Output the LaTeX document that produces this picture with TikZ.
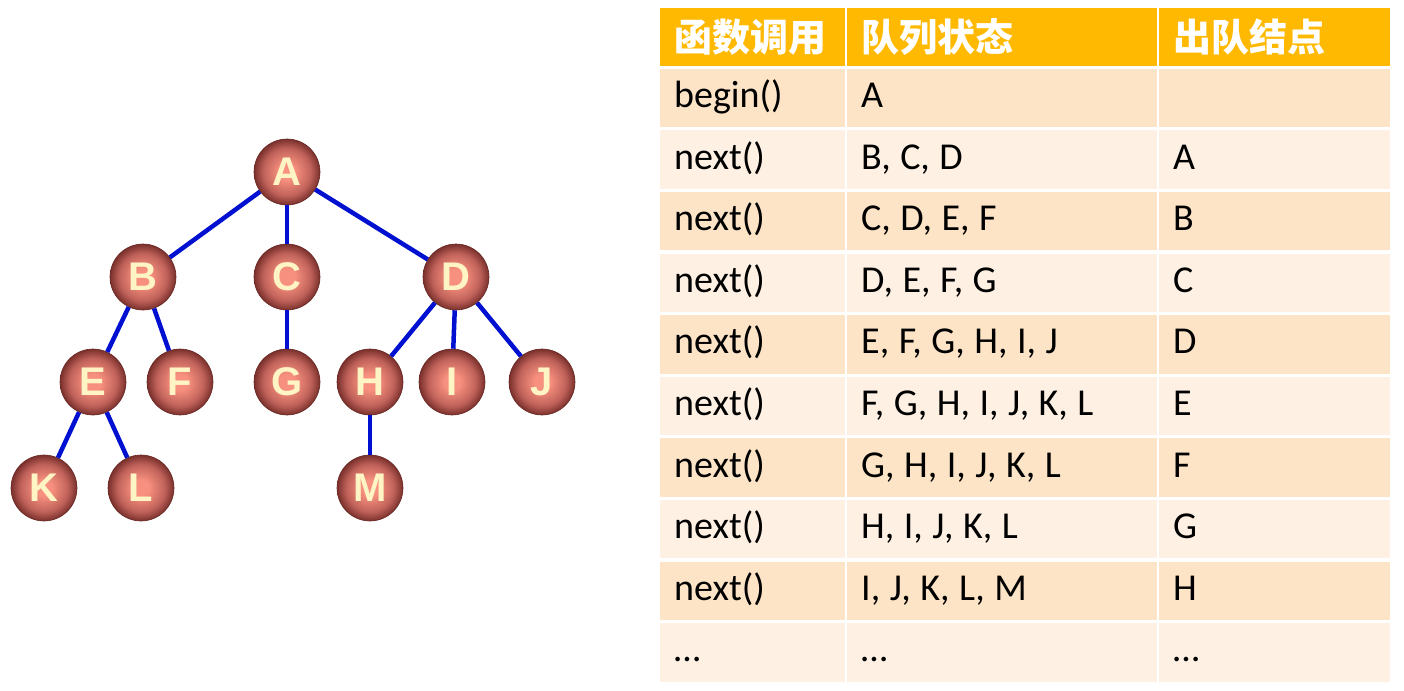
\documentclass[tikz,border=0pt]{standalone}
\usepackage{fontspec}
\setmainfont{Carlito}
\newfontfamily\cjk{Noto Sans CJK SC}
\newfontfamily\treefont{Liberation Sans}
\definecolor{ballin}{HTML}{F7907F}
\definecolor{ballmid}{HTML}{C0625A}
\definecolor{ballout}{HTML}{7A302C}
\definecolor{balltext}{HTML}{FFF4C4}
\definecolor{edgeblue}{HTML}{0010D0}
\definecolor{headfill}{HTML}{FFB900}
\definecolor{rowdark}{HTML}{FDE4C6}
\definecolor{rowlight}{HTML}{FEF1E4}
\pgfdeclareradialshading{nodeball}{\pgfpoint{0bp}{0bp}}{color(0bp)=(ballin); color(6bp)=(ballin); color(18bp)=(ballmid); color(25bp)=(ballout); color(50bp)=(ballout)}
\newcommand\cellsp[1]{\frenchspacing\spaceskip=9.5pt\relax #1}
\newcommand\tabrow[5]{%
  \pgfmathsetmacro\rowy{68.5+61.6*#1}%
  \node[cell, fill=#2, minimum width=185pt, text width=157pt] (r#1a) at (660,\rowy) {#3};
  \node[cell, fill=#2, minimum width=310pt, text width=282pt] (r#1b) at (847,\rowy) {\cellsp{#4}};
  \node[cell, fill=#2, minimum width=231pt, text width=203pt] (r#1c) at (1159,\rowy) {#5};
}
\begin{document}
\begin{tikzpicture}[x=1pt,y=-1pt,
  tnode/.style={circle, minimum size=66pt, inner sep=0pt, shading=nodeball, draw=ballout!85!black, line width=0.6pt,
    text=balltext, font=\treefont\bfseries\fontsize{40}{40}\selectfont},
  tedge/.style={edgeblue, line width=4.5pt},
  cell/.style={anchor=north west, minimum height=58.5pt, inner xsep=14pt, inner ysep=0pt, align=left,
    text height=27pt, text depth=8pt,
    font=\fontsize{38}{40}\selectfont, text=black},
  headcell/.style={anchor=north west, minimum height=58pt, inner xsep=14pt, inner ysep=0pt, align=left,
    fill=headfill, font=\cjk\bfseries\fontsize{38}{40}\selectfont, text=white}]
\useasboundingbox (0,0) rectangle (1404,690);
\fill[white] (0,0) rectangle (1404,690);

% tree
\node[tnode] (A) at (287,172) {A};
\node[tnode] (B) at (143,277) {B};
\node[tnode] (C) at (287,277) {C};
\node[tnode] (D) at (456,277) {D};
\node[tnode] (E) at (93,382) {E};
\node[tnode] (F) at (180,382) {F};
\node[tnode] (G) at (287,382) {G};
\node[tnode] (H) at (370,382) {H};
\node[tnode] (I) at (452,382) {I};
\node[tnode] (J) at (542,382) {J};
\node[tnode] (K) at (44,488) {K};
\node[tnode] (L) at (141,488) {L};
\node[tnode] (M) at (370,488) {M};
\draw[tedge] (A) -- (B);
\draw[tedge] (A) -- (C);
\draw[tedge] (A) -- (D);
\draw[tedge] (B) -- (E);
\draw[tedge] (B) -- (F);
\draw[tedge] (C) -- (G);
\draw[tedge] (D) -- (H);
\draw[tedge] (D) -- (I);
\draw[tedge] (D) -- (J);
\draw[tedge] (E) -- (K);
\draw[tedge] (E) -- (L);
\draw[tedge] (H) -- (M);

% table header
\node[headcell, minimum width=185pt, text width=157pt] (h1) at (660,8) {函数调用};
\node[headcell, minimum width=310pt, text width=282pt] (h2) at (847,8) {队列状态};
\node[headcell, minimum width=231pt, text width=203pt] (h3) at (1159,8) {出队结点};

% table rows
\tabrow{0}{rowdark}{begin()}{A}{}
\tabrow{1}{rowlight}{next()}{B, C, D}{A}
\tabrow{2}{rowdark}{next()}{C, D, E, F}{B}
\tabrow{3}{rowlight}{next()}{D, E, F, G}{C}
\tabrow{4}{rowdark}{next()}{E, F, G, H, I, J}{D}
\tabrow{5}{rowlight}{next()}{F, G, H, I, J, K, L}{E}
\tabrow{6}{rowdark}{next()}{G, H, I, J, K, L}{F}
\tabrow{7}{rowlight}{next()}{H, I, J, K, L}{G}
\tabrow{8}{rowdark}{next()}{I, J, K, L, M}{H}
\tabrow{9}{rowlight}{…}{…}{…}
\end{tikzpicture}
\end{document}
